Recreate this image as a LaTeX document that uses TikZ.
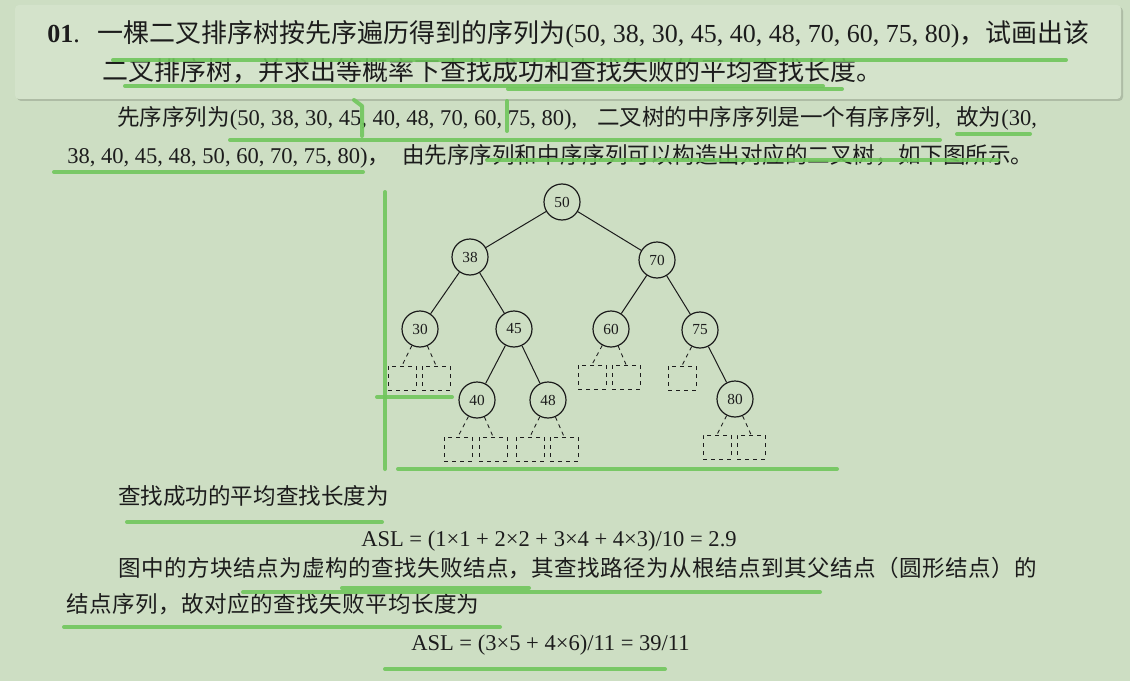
\documentclass[tikz,border=0pt]{standalone}
\usepackage{fontspec}
\setmainfont{Liberation Serif}
\newfontfamily\cjk{Noto Sans CJK SC}
\newfontfamily\cjkwide[LetterSpace=2]{Noto Sans CJK SC}
\usetikzlibrary{calc}
\definecolor{pagebg}{RGB}{205,222,195}
\definecolor{boxbg}{RGB}{212,227,203}
\definecolor{hlgreen}{RGB}{112,198,92}
\definecolor{ink}{RGB}{28,28,28}

\begin{document}
\begin{tikzpicture}[x=0.75pt, y=-0.75pt]
	\tikzstyle{keynode}=[circle, draw=ink, line width=0.9pt, minimum size=27pt, inner sep=0pt, font=\fontsize{11.5}{12}\selectfont, text=ink]
	\tikzstyle{failnode}=[rectangle, draw=ink, dashed, line width=0.65pt, minimum width=21pt, minimum height=18pt, inner sep=0pt]
	\tikzstyle{edge}=[draw=ink, line width=0.75pt]
	\tikzstyle{failedge}=[draw=ink, line width=0.65pt, dashed]
	\tikzstyle{headtxt}=[anchor=base west, inner sep=0pt, text=ink, font=\fontsize{19.5}{22}\selectfont]
	\tikzstyle{bodytxt}=[anchor=base west, inner sep=0pt, text=ink, font=\fontsize{16.9}{20}\selectfont]
	\tikzstyle{hilite}=[draw=hlgreen, line width=3pt, line cap=round, line join=round, opacity=0.9]
	\useasboundingbox (0,0) rectangle (1130,681);
	\fill[pagebg] (0,0) rectangle (1130,681);
	%Question box
	\fill[black, opacity=0.15, rounded corners=3pt] (17,7) rectangle (1123,101);
	\fill[boxbg, rounded corners=3pt] (15,5) rectangle (1121,99);
	\node[headtxt](qnum) at (47,43) {\textbf{01}.};
	\node[headtxt](q1) at (97,43) {{\cjk 一棵二叉排序树按先序遍历得到的序列为}(50, 38, 30, 45, 40, 48, 70, 60, 75, 80){\cjk ，试画出该}};
	\node[headtxt](q2) at (102,81) {\cjk 二叉排序树，并求出等概率下查找成功和查找失败的平均查找长度。};
	%Answer text
	\node[bodytxt](a1) at (117,126) {{\cjk 先序序列为}(50, 38, 30, 45, 40, 48, 70, 60, 75, 80),};
	\node[bodytxt](a2) at (597,126) {{\cjk 二叉树的中序序列是一个有序序列},};
	\node[bodytxt](a3) at (956,126) {{\cjk 故为}(30,};
	\node[bodytxt](a4) at (67,163) {38, 40, 45, 48, 50, 60, 70, 75, 80){\cjk ，}};
	\node[bodytxt](a5) at (402,163) {\cjk 由先序序列和中序序列可以构造出对应的二叉树，如下图所示。};
	%First Row
	\node[keynode](k50) at (562,202) {50};
	%Second Row
	\node[keynode](k38) at (470,257) {38};
	\node[keynode](k70) at (657,260) {70};
	%Third Row
	\node[keynode](k30) at (420,329) {30};
	\node[keynode](k45) at (514,329) {45};
	\node[keynode](k60) at (611,329) {60};
	\node[keynode](k75) at (700,330) {75};
	%Fourth Row
	\node[keynode](k40) at (477,400) {40};
	\node[keynode](k48) at (548,400) {48};
	\node[keynode](k80) at (735,399) {80};
	%Failure nodes
	\node[failnode](f30a) at ($(k30)+(-18,49)$) {};
	\node[failnode](f30b) at ($(k30)+(16,49)$) {};
	\node[failnode](f60a) at ($(k60)+(-19,48)$) {};
	\node[failnode](f60b) at ($(k60)+(15,48)$) {};
	\node[failnode](f75a) at ($(k75)+(-18,48)$) {};
	\node[failnode](f40a) at ($(k40)+(-19,49)$) {};
	\node[failnode](f40b) at ($(k40)+(16,49)$) {};
	\node[failnode](f48a) at ($(k48)+(-18,49)$) {};
	\node[failnode](f48b) at ($(k48)+(16,49)$) {};
	\node[failnode](f80a) at ($(k80)+(-18,48)$) {};
	\node[failnode](f80b) at ($(k80)+(16,48)$) {};
	%Edges
	\draw[edge] (k50) -- (k38);
	\draw[edge] (k50) -- (k70);
	\draw[edge] (k38) -- (k30);
	\draw[edge] (k38) -- (k45);
	\draw[edge] (k70) -- (k60);
	\draw[edge] (k70) -- (k75);
	\draw[edge] (k45) -- (k40);
	\draw[edge] (k45) -- (k48);
	\draw[edge] (k75) -- (k80);
	\draw[failedge] (k30) -- (f30a.north);
	\draw[failedge] (k30) -- (f30b.north);
	\draw[failedge] (k60) -- (f60a.north);
	\draw[failedge] (k60) -- (f60b.north);
	\draw[failedge] (k75) -- (f75a.north);
	\draw[failedge] (k40) -- (f40a.north);
	\draw[failedge] (k40) -- (f40b.north);
	\draw[failedge] (k48) -- (f48a.north);
	\draw[failedge] (k48) -- (f48b.north);
	\draw[failedge] (k80) -- (f80a.north);
	\draw[failedge] (k80) -- (f80b.north);
	%ASL text
	\node[bodytxt](s1) at (118,504) {\cjk 查找成功的平均查找长度为};
	\node[bodytxt](s2) at (361,546) {ASL = (1×1 + 2×2 + 3×4 + 4×3)/10 = 2.9};
	\node[bodytxt](s3) at (118,576) {\cjkwide 图中的方块结点为虚构的查找失败结点，其查找路径为从根结点到其父结点（圆形结点）的};
	\node[bodytxt](s4) at (66,612) {\cjkwide 结点序列，故对应的查找失败平均长度为};
	\node[bodytxt](s5) at (411,650) {ASL = (3×5 + 4×6)/11 = 39/11};
	%Green marks
	\draw[hilite] (113,60) -- (1066,60);
	\draw[hilite] (125,86) -- (823,86);
	\draw[hilite] (508,89) -- (842,89);
	\draw[hilite] (354,100) -- (362,106) -- (362,136);
	\draw[hilite] (507,101) -- (507,131);
	\draw[hilite] (230,140) -- (940,140);
	\draw[hilite] (957,134) -- (1030,134);
	\draw[hilite] (54,172) -- (363,172);
	\draw[hilite] (487,160) -- (998,160);
	\draw[hilite] (385,192) -- (385,469);
	\draw[hilite] (377,397) -- (452,397);
	\draw[hilite] (398,469) -- (837,469);
	\draw[hilite] (127,522) -- (382,522);
	\draw[hilite] (243,592) -- (820,592);
	\draw[hilite] (342,588) -- (529,588);
	\draw[hilite] (64,627) -- (500,627);
	\draw[hilite] (385,669) -- (665,669);
\end{tikzpicture}
\end{document}
